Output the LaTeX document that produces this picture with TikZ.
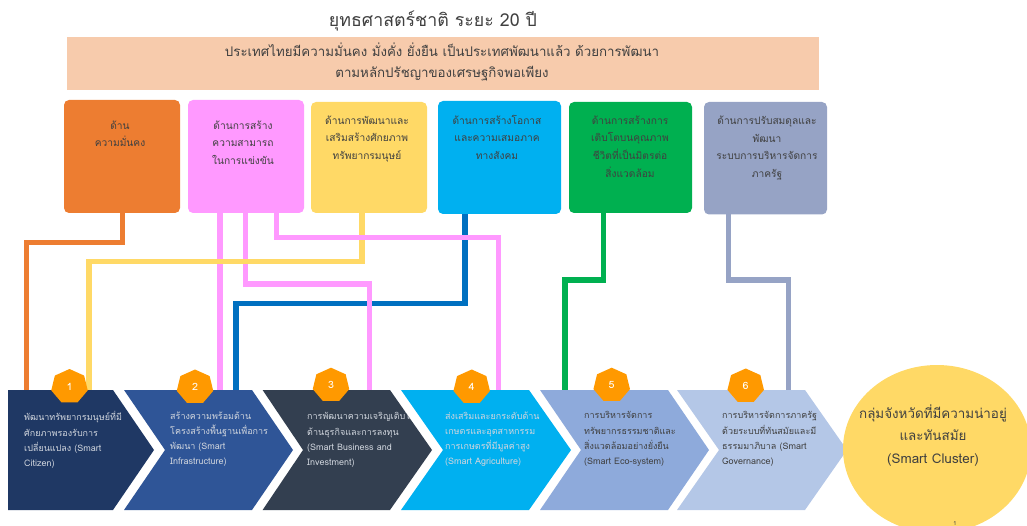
\documentclass[tikz,border=0pt]{standalone}
\usepackage{fontspec}
\setmainfont{Loma}[Script=Thai]
\usetikzlibrary{shapes.geometric}
\definecolor{cOrange}{HTML}{ED7D31}
\definecolor{cPink}{HTML}{FF99FF}
\definecolor{cYellow}{HTML}{FFD966}
\definecolor{cCyan}{HTML}{00B0F0}
\definecolor{cGreen}{HTML}{00B050}
\definecolor{cGrey}{HTML}{96A3C5}
\definecolor{cBlue}{HTML}{0070C0}
\definecolor{cBanner}{HTML}{F7CBAC}
\definecolor{cA}{HTML}{1F3864}
\definecolor{cB}{HTML}{2F5597}
\definecolor{cC}{HTML}{333F50}
\definecolor{cE}{HTML}{8EAADB}
\definecolor{cF}{HTML}{B4C7E7}
\definecolor{cHept}{HTML}{FF9900}
\definecolor{cTxt}{HTML}{404040}
\definecolor{cLight}{HTML}{D0D5DD}
\tikzset{
 x=1pt,y=-1pt,
 box/.style={rounded corners=5pt,inner sep=0,outer sep=0,anchor=north west},
 boxtext/.style={font=\fontsize{10.2}{17.6}\selectfont,align=center,text=black!75,inner sep=0,anchor=north},
 link/.style={line width=5.2pt,line join=miter},
 hept/.style={regular polygon,regular polygon sides=7,minimum size=35pt,inner sep=0,outer sep=0,fill=cHept,text=white,font=\fontsize{10}{10}\selectfont},
 chtext/.style={font=\fontsize{9}{15.2}\selectfont,align=left,inner sep=0,anchor=north west},
}
\begin{document}
\begin{tikzpicture}
\useasboundingbox (0,0) rectangle (1027,526);
\clip (0,0) rectangle (1027,526);
\node[inner sep=0,font=\fontsize{17.8}{20}\selectfont,text=cTxt] (title) at (433,21) {ยุทธศาสตร์ชาติ ระยะ 20 ปี};
\node[fill=cBanner,inner sep=0,outer sep=0,minimum width=751.5pt,minimum height=53pt,anchor=north west] (banner) at (67,37) {};
\node[inner sep=0,align=center,font=\fontsize{13.3}{21.5}\selectfont,text=cTxt] (bannertext) at (442,62) {ประเทศไทยมีความมั่นคง มั่งคั่ง ยั่งยืน เป็นประเทศพัฒนาแล้ว ด้วยการพัฒนา\\ตามหลักปรัชญาของเศรษฐกิจพอเพียง};
% boxes
\node[box,fill=cOrange,minimum width=116pt,minimum height=113pt] (b1) at (64,100) {};
\node[box,fill=cPink,minimum width=116pt,minimum height=113pt] (b2) at (188,100) {};
\node[box,fill=cYellow,minimum width=116pt,minimum height=111pt] (b3) at (311,102) {};
\node[box,fill=cCyan,minimum width=123pt,minimum height=113pt] (b4) at (438,101) {};
\node[box,fill=cGreen,minimum width=123pt,minimum height=111pt] (b5) at (569,102) {};
\node[box,fill=cGrey,minimum width=123pt,minimum height=112.5pt] (b6) at (704,102) {};
\node[boxtext] (t1) at (120,120.5) {ด้าน\\ความมั่นคง};
\node[boxtext] (t2) at (243,120.5) {ด้านการสร้าง\\ความสามารถ\\ในการแข่งขัน};
\node[boxtext] (t3) at (367,115.5) {ด้านการพัฒนาและ\\เสริมสร้างศักยภาพ\\ทรัพยากรมนุษย์};
\node[boxtext] (t4) at (497,115) {ด้านการสร้างโอกาส\\และความเสมอภาค\\ทางสังคม};
\node[boxtext] (t5) at (630,115.5) {ด้านการสร้างการ\\เติบโตบนคุณภาพ\\ชีวิตที่เป็นมิตรต่อ\\สิ่งแวดล้อม};
\node[boxtext] (t6) at (767,116) {ด้านการปรับสมดุลและ\\พัฒนา\\ระบบการบริหารจัดการ\\ภาครัฐ};
% connector ends on chevrons
\foreach \n/\x in {e1/26.7,e2/89,e3/220,e4/236,e5/369.3,e6/498.7,e7/565,e8/788.3}{\coordinate (\n) at (\x,392);}
\draw[link,cOrange] ([xshift=0.7pt]b1.south) -- ++(0,29.7) -| (e1);
\draw[link,cBlue] ([xshift=-34.5pt]b4.south) -- ++(0,89.3) -| (e4);
\draw[link,cPink] ([xshift=-26pt]b2.south) -- (e3);
\draw[link,cPink] ([xshift=-0.3pt]b2.south) -- ++(0,71) -| (e5);
\draw[link,cYellow] ([xshift=-7pt]b3.south) -- ++(0,48.7) -| (e2);
\draw[link,cPink] ([xshift=30.7pt]b2.south) -- ++(0,24.7) -| (e6);
\draw[link,cGreen] ([xshift=-26.8pt]b5.south) -- ++(0,67) -| (e7);
\draw[link,cGrey] ([xshift=-36.8pt]b6.south) -- ++(0,65.5) -| (e8);
% chevrons
\fill[cA] (8,390)--(113,390)--(154,450)--(113,510)--(8,510)--cycle;
\fill[cB] (124,390)--(252,390)--(293,450)--(252,510)--(124,510)--(165,450)--cycle;
\fill[cC] (262.6,390)--(390,390)--(432,450)--(390,510)--(262.6,510)--(303,450)--cycle;
\fill[cCyan] (401,390)--(529,390)--(571,450)--(529,510)--(401,510)--(443,450)--cycle;
\fill[cE] (540,390)--(668,390)--(709,450)--(668,510)--(540,510)--(581,450)--cycle;
\fill[cF] (677,390)--(805,390)--(847,450)--(805,510)--(677,510)--(719,450)--cycle;
% heptagons
\foreach \n/\x/\y/\t in {h1/69.5/386.5/1,h2/195/387/2,h3/331/385.2/3,h4/471.7/387/4,h5/611.7/385.2/5,h6/745.7/386/6}{
 \node[hept,transform shape,xscale=1.07] (\n) at (\x,\y) {\t};
}
% chevron texts
\node[chtext,text=cLight] (c1) at (24,411.5) {พัฒนาทรัพยากรมนุษย์ที่มี\\ศักยภาพรองรับการ\\เปลี่ยนแปลง (Smart\\Citizen)};
\node[chtext,text=cLight] (c2) at (170,411.5) {สร้างความพร้อมด้าน\\โครงสร้างพื้นฐานเพื่อการ\\พัฒนา (Smart\\Infrastructure)};
\begin{scope}
\clip (262.6,390)--(390,390)--(432,450)--(390,510)--(262.6,510)--cycle;
\node[chtext,text=cLight] (c3) at (307,411.5) {การพัฒนาความเจริญเติบโต\\ด้านธุรกิจและการลงทุน\\(Smart Business and\\Investment)};
\end{scope}
\node[chtext,text=cLight] (c4) at (445,411.5) {ส่งเสริมและยกระดับด้าน\\เกษตรและอุตสาหกรรม\\การเกษตรที่มีมูลค่าสูง\\(Smart Agriculture)};
\node[chtext,text=cTxt] (c5) at (584,411.5) {การบริหารจัดการ\\ทรัพยากรธรรมชาติและ\\สิ่งแวดล้อมอย่างยั่งยืน\\(Smart Eco-system)};
\node[chtext,text=cTxt] (c6) at (722,411.5) {การบริหารจัดการภาครัฐ\\ด้วยระบบที่ทันสมัยและมี\\ธรรมมาภิบาล (Smart\\Governance)};
% ellipse
\node[ellipse,fill=cYellow,minimum width=188pt,minimum height=168pt,inner sep=0,outer sep=0] (goal) at (937,449) {};
\node[inner sep=0,align=center,font=\fontsize{13.4}{22.8}\selectfont,text=cTxt] (goaltext) at (933,435.5) {กลุ่มจังหวัดที่มีความน่าอยู่\\และทันสมัย\\(Smart Cluster)};
\node[inner sep=0,font=\fontsize{5.5}{6}\selectfont,text=cTxt] (pg) at (955,523.2) {1};
\end{tikzpicture}
\end{document}
